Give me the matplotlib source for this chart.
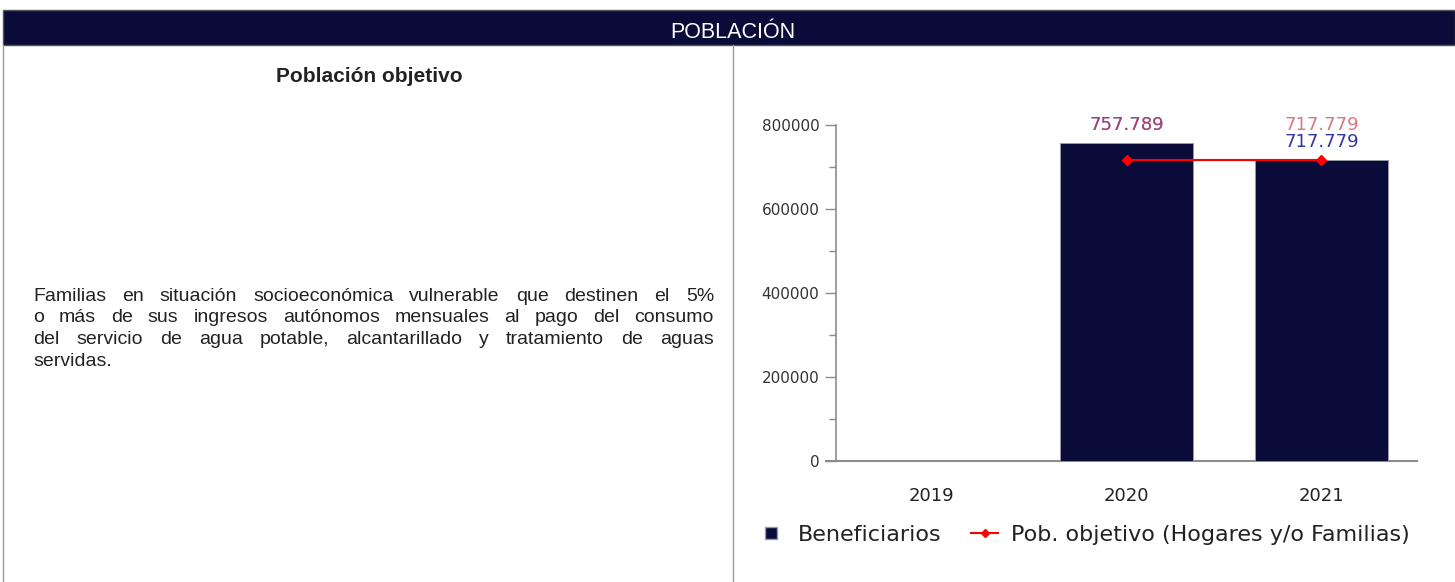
import matplotlib
matplotlib.use("Agg")
import matplotlib.pyplot as plt
from matplotlib.lines import Line2D
import numpy as np

# ---- data ----
years = ["2019", "2020", "2021"]
beneficiarios = [0, 757789, 717779]
pob_objetivo = [None, 717779, 717779]
bar_labels = ["", "757.789", "717.779"]
line_labels = ["", "757.789", "717.779"]
yticks = [0, 200000, 400000, 600000, 800000]
yticks_minor = [100000, 300000, 500000, 700000]

header_title = "POBLACIÓN"
left_title = "Población objetivo"
paragraph_lines = [
    "Familias en situación socioeconómica vulnerable que destinen el 5%",
    "o más de sus ingresos autónomos mensuales al pago del consumo",
    "del servicio de agua potable, alcantarillado y tratamiento de aguas",
    "servidas.",
]
legend_labels = ["Beneficiarios", "Pob. objetivo (Hogares y/o Familias)"]

NAVY = "#0b0b3a"
BLUE = "#3535a0"
RED = "#d04a5a"
GRID = "#8c8c8c"

W, H = 1455, 582
fig = plt.figure(figsize=(W / 100, H / 100), dpi=100)
fig.patch.set_facecolor("white")


def fx(px):
    return px / W


def fy(py):
    return 1 - py / H


# header band and table borders
bg = fig.add_axes([0, 0, 1, 1], zorder=0)
bg.set_xlim(0, W)
bg.set_ylim(H, 0)
bg.axis("off")
bg.add_patch(plt.Rectangle((3, 10), W - 3, 35, facecolor=NAVY, edgecolor="#555555", lw=1))
bg.plot([3, 3], [45, H], color="#9a9a9a", lw=1)
bg.plot([733, 733], [45, H], color="#9a9a9a", lw=1)
bg.text(733, 32, header_title, color="white", ha="center", va="center",
        fontsize=15.5, family="Liberation Sans")
bg.text(369, 76, left_title, color="#222222", ha="center", va="center",
        fontsize=15, fontweight="bold", family="Liberation Sans")

# justified paragraph
PFS = 14
renderer = fig.canvas.get_renderer()
x0, x1 = 33, 714
baselines = [301, 322.5, 344, 365.5]
for i, line in enumerate(paragraph_lines):
    words = line.split(" ")
    texts = []
    widths = []
    for w in words:
        t = bg.text(0, baselines[i], w, fontsize=PFS, family="Liberation Sans",
                    color="#222222", va="baseline", ha="left")
        texts.append(t)
        widths.append(t.get_window_extent(renderer).width)
    if i < len(paragraph_lines) - 1 and len(words) > 1:
        gap = (x1 - x0 - sum(widths)) / (len(words) - 1)
    else:
        gap = 5
    x = x0
    for t, wd in zip(texts, widths):
        t.set_x(x)
        x += wd + gap

# chart
ax = fig.add_axes([fx(836), fy(461), fx(1417) - fx(836), fy(125) - fy(461)], zorder=2)
x = np.arange(len(years))
ax.bar(x, beneficiarios, width=0.68, color=NAVY, edgecolor="#9a9aaa", linewidth=0.6, zorder=2)
lx = [xi for xi, v in zip(x, pob_objetivo) if v is not None]
ly = [v for v in pob_objetivo if v is not None]
ax.plot(lx, ly, color="red", lw=1.5, marker="D", markersize=5, zorder=3)

ax.set_xlim(-0.49, 2.49)
ax.set_ylim(0, 800000)
ax.set_yticks(yticks)
ax.set_yticks(yticks_minor, minor=True)
ax.set_yticklabels([str(v) for v in yticks], fontsize=11, family="DejaVu Sans", color="#333333")
ax.set_xticks(x)
ax.set_xticklabels(years, fontsize=13, family="DejaVu Sans", color="#222222")
ax.tick_params(axis="x", length=0, pad=19)
ax.tick_params(axis="y", which="major", length=8, color=GRID, pad=4, width=1)
ax.tick_params(axis="y", which="minor", length=5, color=GRID, width=1)
for s in ["top", "right", "bottom"]:
    ax.spines[s].set_visible(False)
ax.spines["left"].set_color(GRID)
ax.spines["left"].set_linewidth(1.2)
ax.add_line(Line2D([-10 / 581, 1], [0, 0], transform=ax.transAxes, color=GRID,
                   lw=1.5, clip_on=False, zorder=1))

for xi, v, lab in zip(x, beneficiarios, bar_labels):
    if lab:
        ax.annotate(lab, (xi, v), xytext=(0, 6.5), textcoords="offset points",
                    ha="center", va="bottom", fontsize=13, color=BLUE, family="DejaVu Sans")
line_offsets = [0, 6.5, 18.5]
for xi, v, lab, off in zip(x, beneficiarios, line_labels, line_offsets):
    if lab:
        ax.annotate(lab, (xi, v), xytext=(0, off), textcoords="offset points",
                    ha="center", va="bottom", fontsize=13, color=RED, alpha=0.75,
                    family="DejaVu Sans")

handles = [
    Line2D([], [], marker="s", linestyle="none", markersize=9, color=NAVY,
           markeredgecolor="#9a9aaa"),
    Line2D([], [], color="red", lw=1.5, marker="D", markersize=4),
]
fig.legend(handles, legend_labels, loc="center", bbox_to_anchor=(fx(1084), fy(535)),
           ncol=2, frameon=False, prop={"family": "DejaVu Sans", "size": 16},
           handlelength=1.2, handletextpad=0.6, columnspacing=1.34, borderpad=0,
           labelcolor="#222222")

fig.savefig("out.png", dpi=100)
